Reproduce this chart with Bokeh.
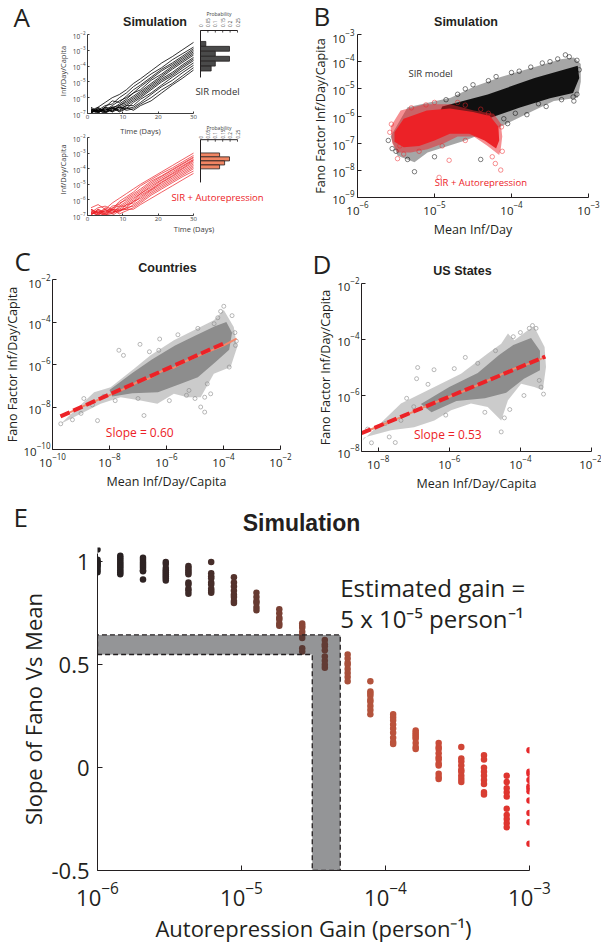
import math
from bokeh.plotting import figure
from bokeh.models import Range1d, FixedTicker, Label
from bokeh.layouts import column, row
from bokeh.embed import file_html
from bokeh.resources import INLINE

INK = "#231f20"
SANS = "Open Sans"
BOLD = "Liberation Sans"
RED = "#ec2227"
AXG = "#3c3c3c"

# ---------------- Panel A: simulated trajectories (log10 Inf/Day/Capita) ----------------
days = [1, 3, 5, 7, 9, 11, 13, 15, 18, 21, 24, 27, 30]
sir_runs = [
    [-6.8, -6.6, -6.3, -6.0, -5.8, -5.5, -5.1, -4.8, -4.3, -3.8, -3.4, -2.95, -2.5],
    [-6.9, -6.8, -6.5, -6.4, -6.0, -5.7, -5.3, -5.0, -4.5, -4.1, -3.6, -3.2, -2.8],
    [-6.7, -6.9, -6.6, -6.2, -6.3, -5.9, -5.5, -5.2, -4.7, -4.2, -3.8, -3.35, -2.9],
    [-7.0, -6.7, -6.8, -6.5, -6.2, -6.0, -5.7, -5.3, -4.8, -4.3, -3.9, -3.45, -3.0],
    [-6.8, -6.9, -6.6, -6.7, -6.4, -6.1, -5.7, -5.5, -4.9, -4.5, -4.0, -3.55, -3.1],
    [-6.95, -6.6, -6.9, -6.6, -6.5, -6.2, -5.9, -5.6, -5.1, -4.6, -4.1, -3.65, -3.2],
    [-6.7, -6.9, -6.7, -6.9, -6.5, -6.3, -6.0, -5.7, -5.2, -4.7, -4.2, -3.75, -3.3],
    [-6.9, -6.8, -7.0, -6.7, -6.6, -6.4, -6.1, -5.8, -5.3, -4.8, -4.4, -3.9, -3.45],
    [-6.6, -6.9, -6.8, -6.6, -6.8, -6.5, -6.2, -5.9, -5.4, -4.9, -4.5, -4.0, -3.55],
    [-6.95, -6.7, -6.9, -6.8, -6.6, -6.7, -6.3, -6.0, -5.5, -5.0, -4.6, -4.1, -3.65],
    [-6.8, -7.0, -6.6, -6.9, -6.7, -6.5, -6.5, -6.1, -5.7, -5.2, -4.7, -4.25, -3.8],
    [-6.9, -6.7, -6.9, -6.6, -6.9, -6.7, -6.6, -6.3, -5.8, -5.3, -4.9, -4.4, -3.95],
    [-6.75, -6.95, -6.7, -6.85, -6.6, -6.8, -6.7, -6.4, -6.0, -5.5, -5.1, -4.6, -4.1],
    [-6.9, -6.8, -6.95, -6.7, -6.85, -6.6, -6.8, -6.5, -6.2, -5.7, -5.2, -4.75, -4.25],
]
auto_runs = [
    [-6.5, -6.3, -6.6, -6.2, -5.9, -5.6, -5.3, -5.0, -4.6, -4.2, -3.8, -3.4, -3.0],
    [-6.8, -6.5, -6.4, -6.6, -6.1, -5.8, -5.5, -5.1, -4.7, -4.3, -3.95, -3.55, -3.15],
    [-6.9, -6.7, -6.8, -6.4, -6.3, -5.9, -5.6, -5.3, -4.8, -4.45, -4.05, -3.65, -3.25],
    [-6.6, -6.9, -6.5, -6.7, -6.2, -6.0, -5.7, -5.4, -4.9, -4.5, -4.1, -3.7, -3.3],
    [-7.0, -6.6, -6.9, -6.5, -6.4, -6.1, -5.8, -5.5, -5.0, -4.6, -4.2, -3.8, -3.4],
    [-6.7, -7.0, -6.6, -6.8, -6.5, -6.2, -5.9, -5.6, -5.1, -4.7, -4.3, -3.85, -3.45],
    [-6.9, -6.8, -7.0, -6.6, -6.6, -6.3, -6.0, -5.6, -5.2, -4.75, -4.35, -3.95, -3.5],
    [-6.6, -6.9, -6.7, -6.9, -6.4, -6.4, -6.1, -5.7, -5.3, -4.85, -4.45, -4.0, -3.6],
    [-6.95, -6.6, -6.8, -6.7, -6.8, -6.3, -6.2, -5.8, -5.35, -4.9, -4.5, -4.1, -3.7],
    [-6.8, -7.0, -6.9, -6.6, -6.7, -6.5, -6.1, -5.9, -5.4, -5.0, -4.6, -4.2, -3.8],
    [-6.7, -6.8, -6.6, -6.9, -6.6, -6.6, -6.3, -6.0, -5.5, -5.1, -4.7, -4.3, -3.9],
    [-6.9, -6.7, -6.95, -6.8, -6.7, -6.5, -6.4, -6.1, -5.6, -5.2, -4.8, -4.4, -4.0],
    [-6.8, -6.95, -6.7, -6.6, -6.9, -6.7, -6.5, -6.2, -5.7, -5.3, -4.9, -4.5, -4.15],
    [-6.6, -6.8, -6.9, -7.0, -6.7, -6.6, -6.6, -6.3, -5.9, -5.5, -5.1, -4.7, -4.3],
]
day_ticks = [0, 10, 20, 30]
prob_ticks = [0, 0.05, 0.1, 0.15, 0.2, 0.25]
prob_tick_text = ["0", "0.05", "0.1", "0.15", "0.2", "0.25"]
sir_bin_edges = [-2.44, -2.75, -3.06, -3.38, -3.69, -4.00, -4.31]
sir_bin_prob = [0.036, 0.196, 0.100, 0.196, 0.100, 0.072]
auto_bin_edges = [-2.99, -3.24, -3.50, -3.76, -4.01]
auto_bin_prob = [0.129, 0.196, 0.163, 0.129]
sir_hist_span = [-1.747, -4.72]
auto_hist_span = [-2.14, -4.88]

# ---------------- Panel B: simulated Fano factor vs mean (log10) ----------------
sir_cloud_x = [-5.57, -5.35, -4.79, -4.49, -4.14, -3.71, -3.36, -3.19, -3.10, -3.10, -3.14, -3.45,
               -3.71, -3.97, -4.14, -4.60, -5.09, -5.26, -5.48]
sir_cloud_y = [-6.75, -5.68, -5.33, -4.92, -4.56, -4.21, -3.91, -3.85, -4.09, -4.74, -5.33, -5.45,
               -5.80, -6.16, -6.39, -6.90, -7.34, -7.70, -7.46]
sir_core_x = [-4.90, -4.31, -3.70, -3.14, -3.12, -3.20, -3.50, -3.90, -4.31, -4.70, -5.00]
sir_core_y = [-5.65, -5.21, -4.60, -4.15, -4.60, -5.15, -5.35, -5.70, -6.10, -6.45, -6.30]
sir_pts_x = [-5.26, -5.50, -4.05, -3.19, -3.15, -3.30, -3.25, -3.40, -3.60, -3.90, -4.20, -4.50,
             -4.70, -3.55, -3.80, -4.10, -5.60, -5.55, -5.35, -5.00, -4.40, -3.12, -3.15, -3.50,
             -3.75, -4.00, -4.30, -4.60, -3.20, -3.35, -3.65, -3.95, -4.85, -5.45]
sir_pts_y = [-8.05, -7.30, -6.28, -5.45, -5.20, -3.75, -3.82, -3.90, -4.05, -4.35, -4.55, -4.85,
             -5.20, -5.65, -5.95, -6.10, -6.90, -7.20, -7.60, -7.50, -7.60, -4.30, -3.95, -4.00,
             -4.20, -4.40, -4.70, -5.00, -5.30, -5.40, -5.55, -5.90, -5.40, -6.80]
auto_cloud_x = [-5.57, -5.44, -5.13, -4.79, -4.49, -4.23, -4.14, -4.12, -4.14, -4.16, -4.31, -4.49,
                -4.70, -4.87, -5.09, -5.31, -5.48, -5.55]
auto_cloud_y = [-6.40, -5.80, -5.57, -5.57, -5.80, -5.92, -6.28, -6.75, -7.22, -7.44, -7.10, -6.75,
                -6.75, -6.99, -7.22, -7.34, -7.34, -6.99]
auto_core_x = [-5.52, -5.40, -5.10, -4.80, -4.50, -4.28, -4.17, -4.16, -4.20, -4.35, -4.55, -4.80,
               -5.00, -5.20, -5.40, -5.52]
auto_core_y = [-6.60, -6.10, -5.80, -5.72, -5.85, -6.00, -6.40, -6.90, -7.20, -6.90, -6.65, -6.65,
               -6.90, -7.10, -7.15, -6.95]
auto_pts_x = [-5.48, -4.94, -4.81, -4.21, -4.14, -5.11, -5.30, -5.56, -5.58, -4.30, -4.13, -4.12,
              -4.60, -4.90, -5.20, -5.45, -4.60, -4.40, -5.00, -4.70, -5.40, -4.25]
auto_pts_y = [-7.57, -8.26, -7.63, -7.75, -7.99, -5.59, -5.70, -6.30, -6.60, -5.90, -6.40, -7.30,
              -6.90, -7.10, -7.30, -7.10, -5.60, -5.75, -5.50, -5.50, -7.40, -7.50]

# ---------------- Panel C: countries (log10) ----------------
cty_cloud_x = [-9.71, -8.54, -7.96, -7.14, -6.56, -5.74, -5.04, -4.34, -3.99, -3.64, -3.52, -3.75,
               -4.34, -4.80, -5.27, -5.74, -6.32, -6.91, -7.61, -8.31, -9.01]
cty_cloud_y = [-8.79, -7.30, -7.07, -6.20, -5.57, -4.86, -4.39, -3.92, -3.44, -4.24, -5.18, -6.12,
               -6.43, -7.54, -7.54, -7.38, -7.85, -7.69, -7.54, -7.85, -8.32]
cty_core_x = [-8.00, -7.20, -6.50, -5.70, -5.00, -4.30, -3.90, -3.70, -3.80, -4.30, -4.90, -5.50,
              -6.30, -7.20, -7.90]
cty_core_y = [-7.20, -6.40, -5.75, -5.10, -4.65, -4.20, -4.00, -4.50, -5.30, -5.90, -6.60, -6.90,
              -7.30, -7.35, -7.50]
cty_pts_x = [-7.67, -7.51, -6.93, -6.24, -3.99, -4.10, -3.58, -4.66, -4.66, -6.79, -9.71, -9.00,
             -8.42, -5.21, -4.57, -4.45, -3.80, -6.27, -4.33, -8.90, -8.20, -5.90, -5.00, -4.80,
             -3.60, -3.70, -9.30, -7.80, -6.60, -5.60, -4.90, -4.20, -7.00, -8.60, -3.55, -5.30]
cty_pts_y = [-5.33, -5.57, -5.05, -4.80, -3.26, -3.50, -5.10, -7.54, -8.24, -8.40, -8.79, -8.30,
             -8.64, -7.22, -6.91, -7.38, -6.12, -5.33, -4.08, -7.60, -7.50, -7.70, -7.60, -8.00,
             -4.50, -3.70, -8.60, -7.70, -5.40, -4.60, -4.30, -3.80, -7.60, -7.90, -4.90, -7.45]
cty_bin_x = [-9.71, -8.90, -8.10, -7.40, -6.91, -6.62, -6.09, -5.74, -5.27, -4.57, -3.99, -3.54]
cty_bin_y = [-8.45, -7.95, -7.50, -7.10, -6.75, -6.67, -6.25, -6.15, -5.81, -5.42, -5.10, -4.78]
cty_slope, cty_icpt, cty_fit_x = 0.60, -2.61, [-9.72, -3.95]

# ---------------- Panel D: US states (log10) ----------------
us_cloud_x = [-8.44, -7.36, -6.42, -5.67, -4.92, -4.54, -4.35, -4.17, -3.79, -3.61, -3.32, -3.28,
              -3.37, -3.61, -3.98, -4.35, -4.54, -4.92, -5.39, -5.95, -6.42, -6.99, -7.64, -8.40]
us_cloud_y = [-7.61, -6.29, -5.70, -5.22, -4.50, -4.15, -3.79, -4.03, -3.67, -3.55, -4.27, -4.98,
              -5.81, -5.70, -5.58, -6.17, -6.89, -6.41, -6.29, -6.53, -6.89, -7.13, -7.24, -7.50]
us_core_x = [-6.80, -6.00, -5.20, -4.60, -4.20, -3.70, -3.45, -3.45, -3.90, -4.40, -5.00, -5.80,
             -6.50]
us_core_y = [-6.30, -5.70, -5.20, -4.55, -4.20, -3.95, -4.40, -5.10, -5.40, -5.90, -6.10, -6.20,
             -6.60]
us_pts_x = [-6.89, -5.55, -6.92, -6.43, -8.19, -4.54, -3.66, -3.56, -3.47, -3.42, -5.86, -7.36,
            -7.69, -7.52, -4.00, -4.20, -3.90, -4.30, -5.00, -6.10, -7.00, -7.80, -8.30, -3.35,
            -5.20, -4.70, -6.60, -7.20, -3.75, -4.45]
us_pts_y = [-5.00, -4.64, -5.40, -5.08, -7.69, -7.30, -3.50, -3.60, -5.46, -5.70, -5.04, -6.89,
            -7.48, -7.68, -3.75, -3.90, -6.00, -6.50, -6.60, -6.70, -6.40, -7.00, -7.20, -5.95,
            -4.85, -4.40, -5.60, -6.10, -3.60, -6.80]
us_bin_x = [-8.47, -7.50, -6.50, -5.50, -4.80, -4.20, -3.60, -3.30]
us_bin_y = [-7.35, -6.85, -6.30, -5.80, -5.40, -5.05, -4.80, -4.62]
us_slope, us_icpt, us_fit_x = 0.53, -2.86, [-8.47, -3.30]

# ---------------- Panel E: fitted slope vs autorepression gain ----------------
gain_levels = [1.00e-6, 1.44e-6, 2.07e-6, 2.98e-6, 4.28e-6, 6.16e-6, 8.86e-6, 1.27e-5, 1.83e-5, 2.64e-5,
               3.79e-5, 5.46e-5, 7.85e-5, 1.13e-4, 1.62e-4, 2.34e-4, 3.36e-4, 4.83e-4, 6.95e-4, 1.00e-3]
slope_runs = [
    [1.06, 1.01, 1.0, 0.99, 0.98, 0.97, 0.96, 0.95, 1.0, 0.985],
    [1.03, 1.02, 1.01, 1.0, 0.99, 0.98, 0.97, 0.96, 0.95, 0.94],
    [1.02, 1.01, 1.0, 0.99, 0.98, 0.97, 0.96, 0.955, 0.915],
    [1.0, 0.99, 0.97, 0.96, 0.95, 0.94, 0.93, 0.92, 0.91],
    [0.98, 0.97, 0.96, 0.95, 0.94, 0.90, 0.89, 0.87, 0.86, 0.845],
    [1.0, 0.945, 0.93, 0.92, 0.90, 0.89, 0.87, 0.86, 0.85],
    [0.925, 0.90, 0.88, 0.86, 0.84, 0.83, 0.81, 0.80],
    [0.85, 0.83, 0.81, 0.80, 0.78, 0.765],
    [0.77, 0.75, 0.73, 0.72, 0.70, 0.69],
    [0.70, 0.69, 0.68, 0.66, 0.645, 0.63, 0.58, 0.565],
    [0.62, 0.60, 0.59, 0.57, 0.54, 0.52, 0.50, 0.485],
    [0.55, 0.53, 0.51, 0.50, 0.48, 0.46, 0.44, 0.42],
    [0.42, 0.37, 0.36, 0.35, 0.33, 0.32, 0.30, 0.28, 0.26],
    [0.26, 0.245, 0.23, 0.21, 0.19, 0.17, 0.145, 0.125, 0.115],
    [0.18, 0.17, 0.16, 0.15, 0.14, 0.12, 0.10, 0.09],
    [0.12, 0.10, 0.09, 0.07, 0.05, 0.04, 0.02, 0.01, -0.03, -0.045, -0.055],
    [0.10, 0.045, 0.03, 0.01, -0.01, -0.02, -0.04, -0.055, -0.07],
    [0.06, 0.04, 0.00, -0.02, -0.04, -0.06, -0.08, -0.12, -0.13],
    [-0.04, -0.07, -0.10, -0.12, -0.14, -0.20, -0.23, -0.25, -0.27, -0.29],
    [0.085, -0.02, -0.03, -0.06, -0.09, -0.10, -0.115, -0.16, -0.22, -0.265, -0.37],
]
level_colors = ["#231f20", "#282122", "#2e2323", "#352626", "#3d2a28", "#472e2a", "#55332d",
                "#663a31", "#794034", "#8a4637", "#9a4b39", "#a8503b", "#b3533c", "#bb533c",
                "#c2503a", "#c94b38", "#d04536", "#d83e33", "#df352f", "#e6292b"]
est_gain = [3.1e-5, 4.85e-5]
est_slope = [0.55, 0.645]


def pow10(vals):
    return [10.0 ** v for v in vals]


def make_fig(w, h, left, right, top, bottom, **kw):
    p = figure(width=w, height=h, min_border_left=left, min_border_right=right,
               min_border_top=top, min_border_bottom=bottom, frame_align=False,
               output_backend="svg", toolbar_location=None, **kw)
    p.outline_line_color = None
    p.xgrid.visible = False
    p.ygrid.visible = False
    return p


def make_strip(w, h):
    # axis-free header band; data coordinates are canvas pixels (y measured upward)
    p = figure(width=w, height=h, x_range=Range1d(0, w), y_range=Range1d(0, h),
               min_border=0, min_border_left=0, min_border_right=0, min_border_top=0,
               min_border_bottom=0, x_axis_location=None, y_axis_location=None,
               frame_align=False, output_backend="svg", toolbar_location=None)
    p.outline_line_color = None
    p.xgrid.visible = False
    p.ygrid.visible = False
    return p


def style_axis(ax, tick_fs, label_fs, tick_in=3, standoff=3, label_standoff=4, color=INK):
    ax.axis_line_color = color
    ax.axis_line_width = 1
    ax.major_tick_in = tick_in
    ax.major_tick_out = 0
    ax.major_tick_line_color = color
    ax.minor_tick_line_color = None
    ax.major_label_text_font = SANS
    ax.major_label_text_font_size = f"{tick_fs}px"
    ax.major_label_text_color = color
    ax.major_label_standoff = standoff
    ax.axis_label_text_font = SANS
    ax.axis_label_text_font_style = "normal"
    ax.axis_label_text_font_size = f"{label_fs}px"
    ax.axis_label_text_color = color
    ax.axis_label_standoff = label_standoff


def put(p, x, y, text, size, font=SANS, color=INK, style="normal", align="left",
        baseline="alphabetic", xu="data", yu="data", angle=0.0, xr="default", yr="default"):
    p.add_layout(Label(x=x, y=y, x_units=xu, y_units=yu, text=text, text_font=font,
                       text_font_size=f"{size}px", text_color=color, text_font_style=style,
                       text_align=align, text_baseline=baseline, angle=angle,
                       x_range_name=xr, y_range_name=yr))


def put_strip(s, x, y_from_top, text, size, **kw):
    put(s, x, s.height - y_from_top, text, size, **kw)


# ---------------- Panel A ----------------
HIST_X0 = 200.0      # canvas x of zero probability
HIST_SCALE = 148.0   # pixels per unit probability
DAY_SCALE = 106.0 / 30.0
A_LEFT = 87


def traj_fig(h, top, bottom, ytop_exp, runs, color, alpha, edges, probs, hist_color,
             span, time_label):
    p = make_fig(300, h, A_LEFT, 0, top, bottom,
                 x_range=Range1d(0, (300 - A_LEFT) / DAY_SCALE),
                 y_range=Range1d(1e-7, 10.0 ** ytop_exp), y_axis_type="log")
    p.extra_x_ranges = {"hist": Range1d((A_LEFT - HIST_X0) / HIST_SCALE, (300 - HIST_X0) / HIST_SCALE)}
    style_axis(p.xaxis[0], 6, 7.5, tick_in=2, standoff=1, label_standoff=0, color=AXG)
    style_axis(p.yaxis[0], 6.5, 7.5, tick_in=2, standoff=2, label_standoff=2, color=AXG)
    p.xaxis.ticker = FixedTicker(ticks=day_ticks)
    p.xaxis.bounds = (0, 30)
    p.yaxis.ticker = FixedTicker(ticks=[1e-7, 1e-6, 1e-5, 1e-4, 1e-3, 1e-2])
    p.yaxis.bounds = (1e-7, 1e-2)
    p.yaxis.axis_label = "Inf/Day/Capita"
    if time_label:
        p.xaxis.axis_label = "Time (Days)"
    p.multi_line(xs=[days] * len(runs), ys=[pow10(r) for r in runs],
                 line_color=color, line_width=0.8, line_alpha=alpha)
    p.quad(left=[0] * len(probs), right=probs, top=pow10(edges[:-1]), bottom=pow10(edges[1:]),
           x_range_name="hist", fill_color=hist_color, line_color=INK, line_width=0.8)
    top_y = 10.0 ** span[0]
    p.segment(x0=[0, 0], x1=[0, 0.25], y0=[top_y, top_y], y1=[10.0 ** span[1], top_y],
              x_range_name="hist", line_color=INK, line_width=1)
    p.segment(x0=prob_ticks, x1=prob_ticks, y0=[top_y] * len(prob_ticks),
              y1=[10.0 ** (span[0] - 0.13)] * len(prob_ticks),
              x_range_name="hist", line_color=INK, line_width=0.8)
    return p


sA = make_strip(300, 28)
sA.extra_x_ranges = {"hist": Range1d(-HIST_X0 / HIST_SCALE, (300 - HIST_X0) / HIST_SCALE)}
put_strip(sA, 13, 16, "A", 26, baseline="middle")
put_strip(sA, 154.5, 21, "Simulation", 12.5, font=BOLD, style="bold", align="center",
          baseline="middle")
for t, s in zip(prob_ticks, prob_tick_text):
    put_strip(sA, t, 26.5, s, 4.5, baseline="middle", xr="hist", angle=math.pi / 2, color=AXG)
put_strip(sA, 0.125, 13, "Probability", 5, align="center", baseline="middle", xr="hist", color=AXG)

# upper trajectories: frame from page y 28 to 113
pa1 = traj_fig(95, 0, 10, -2 + 6 / 15.8, sir_runs, "black", 1.0, sir_bin_edges, sir_bin_prob,
               "#4a4a4a", sir_hist_span, False)
put(pa1, 0.115, 10.0 ** -5.61, "SIR model", 9.5, align="center", baseline="middle",
    xr="hist", color="#333333")

# lower trajectories: frame from page y 123 to 215; 10^-2 sits at page y 137
pa2 = traj_fig(117, 0, 25, -2 + 14 / 15.6, auto_runs, RED, 0.9, auto_bin_edges, auto_bin_prob,
               "#f08563", auto_hist_span, True)
put(pa2, 0.115, 10.0 ** -5.85, "SIR + Autorepression", 9.5, align="center", baseline="middle",
    xr="hist", color=RED)
# label of the upper time axis and the lower histogram's probability axis (frame-relative px)
put(pa2, 15, 85, "Time (Days)", 7.5, align="center", yu="screen", color=AXG)
for t, s in zip(prob_ticks, prob_tick_text):
    put(pa2, t, 77, s, 4.5, baseline="middle", xr="hist", yu="screen", angle=math.pi / 2,
        color=AXG)
put(pa2, 0.125, 88, "Probability", 5, align="center", xr="hist", yu="screen", color=AXG)

# ---------------- Panel B ----------------
sB = make_strip(301, 28)
put_strip(sB, 13, 15, "B", 26, baseline="middle")
put_strip(sB, 165.5, 21, "Simulation", 12.5, font=BOLD, style="bold", align="center",
          baseline="middle")

pb = make_fig(301, 212, 57, 13, 6, 37, x_range=Range1d(1e-6, 1e-3), y_range=Range1d(1e-9, 1e-3),
              x_axis_type="log", y_axis_type="log")
style_axis(pb.xaxis[0], 11.5, 12.5, tick_in=4, standoff=4, label_standoff=3)
style_axis(pb.yaxis[0], 11.5, 12.5, tick_in=4, standoff=3, label_standoff=0)
pb.xaxis.ticker = FixedTicker(ticks=[1e-6, 1e-5, 1e-4, 1e-3])
pb.yaxis.ticker = FixedTicker(ticks=[1e-9, 1e-8, 1e-7, 1e-6, 1e-5, 1e-4, 1e-3])
pb.xaxis.axis_label = "Mean Inf/Day"
pb.yaxis.axis_label = "Fano Factor Inf/Day/Capita"
pb.patch(pow10(sir_cloud_x), pow10(sir_cloud_y), fill_color="black", fill_alpha=0.35, line_color=None)
pb.patch(pow10(sir_core_x), pow10(sir_core_y), fill_color="black", fill_alpha=0.9, line_color=None)
pb.scatter(pow10(sir_pts_x), pow10(sir_pts_y), marker="circle", size=4.5, fill_color=None,
           line_color="black", line_width=0.5)
pb.patch(pow10(auto_cloud_x), pow10(auto_cloud_y), fill_color=RED, fill_alpha=0.5, line_color=None)
pb.patch(pow10(auto_core_x), pow10(auto_core_y), fill_color=RED, fill_alpha=1.0, line_color=None)
pb.scatter(pow10(auto_pts_x), pow10(auto_pts_y), marker="circle", size=4.5, fill_color=None,
           line_color=RED, line_width=0.5)
put(pb, 8.9e-6, 3.6e-5, "SIR model", 9.5, align="center", baseline="middle", color="#333333")
put(pb, 4.0e-5, 3.5e-9, "SIR + Autorepression", 9.5, align="center", baseline="middle", color=RED)


# ---------------- Panels C and D ----------------
def fano_fig(w, h, left, right, top, bottom, xmin, xmax, ymin, ymax, xticks, yticks):
    p = make_fig(w, h, left, right, top, bottom,
                 x_range=Range1d(xmin, xmax), y_range=Range1d(ymin, ymax),
                 x_axis_type="log", y_axis_type="log")
    style_axis(p.xaxis[0], 11.5, 12.5, tick_in=4, standoff=4, label_standoff=3)
    style_axis(p.yaxis[0], 11.5, 12.5, tick_in=4, standoff=2, label_standoff=0)
    p.xaxis.ticker = FixedTicker(ticks=xticks)
    p.yaxis.ticker = FixedTicker(ticks=yticks)
    p.xaxis.axis_label = "Mean Inf/Day/Capita"
    p.yaxis.axis_label = "Fano Factor Inf/Day/Capita"
    return p


def draw_cloud(p, cx, cy, kx, ky, px, py, bx, by, slope, icpt, fx):
    p.patch(pow10(cx), pow10(cy), fill_color="#8c8c8c", fill_alpha=0.45, line_color=None)
    p.patch(pow10(kx), pow10(ky), fill_color="#7d7d7d", fill_alpha=0.8, line_color=None)
    p.scatter(pow10(px), pow10(py), marker="circle", size=4, fill_color=None,
              line_color="#8a8a8a", line_width=0.6)
    p.line(pow10(bx), pow10(by), line_color="#f3866a", line_width=2)
    p.line(pow10(fx), pow10([icpt + slope * v for v in fx]), line_color=RED, line_width=4,
           line_dash="10 4")


sC = make_strip(300, 33)
put_strip(sC, 14, 20, "C", 26, baseline="middle")
put_strip(sC, 167, 27.5, "Countries", 12.5, font=BOLD, style="bold", align="center",
          baseline="middle")
pc = fano_fig(300, 227, 52, 20, 6, 51, 1e-10, 1e-2, 1e-10, 1e-2,
              [1e-10, 1e-8, 1e-6, 1e-4, 1e-2], [1e-10, 1e-8, 1e-6, 1e-4, 1e-2])
draw_cloud(pc, cty_cloud_x, cty_cloud_y, cty_core_x, cty_core_y, cty_pts_x, cty_pts_y,
           cty_bin_x, cty_bin_y, cty_slope, cty_icpt, cty_fit_x)
put(pc, 1.15e-7, 6.3e-10, f"Slope = {cty_slope:.2f}", 12, align="center", baseline="middle",
    color=RED)

sD = make_strip(301, 36)
put_strip(sD, 12, 23, "D", 26, baseline="middle")
put_strip(sD, 162, 30.5, "US States", 12.5, font=BOLD, style="bold", align="center",
          baseline="middle")
pd = fano_fig(301, 224, 61, 10, 7, 49, 10.0 ** -8.47, 1e-2, 1e-8, 1e-2,
              [1e-8, 1e-6, 1e-4, 1e-2], [1e-8, 1e-6, 1e-4, 1e-2])
draw_cloud(pd, us_cloud_x, us_cloud_y, us_core_x, us_core_y, us_pts_x, us_pts_y,
           us_bin_x, us_bin_y, us_slope, us_icpt, us_fit_x)
put(pd, 9.1e-7, 4.1e-8, f"Slope = {us_slope:.2f}", 12, align="center", baseline="middle",
    color=RED)

# ---------------- Panel E ----------------
sE = make_strip(601, 35)
put_strip(sE, 13, 16, "E", 26, baseline="middle")
put_strip(sE, 301, 22, "Simulation", 23, font=BOLD, style="bold", align="center",
          baseline="middle")

pe = make_fig(601, 410, 97, 72, 12, 68, x_range=Range1d(1e-6, 1e-3), y_range=Range1d(-0.5, 1.07),
              x_axis_type="log")
style_axis(pe.xaxis[0], 22, 22, tick_in=5, standoff=11, label_standoff=4)
style_axis(pe.yaxis[0], 22, 22, tick_in=5, standoff=8, label_standoff=0)
pe.xaxis.ticker = FixedTicker(ticks=[1e-6, 1e-5, 1e-4, 1e-3])
pe.yaxis.ticker = FixedTicker(ticks=[-0.5, 0, 0.5, 1])
pe.yaxis.major_label_overrides = {-0.5: "-0.5", 0: "0", 0.5: "0.5", 1: "1"}
pe.yaxis.bounds = (-0.5, 1.04)
pe.xaxis.axis_label = "Autorepression Gain (person\u207b\u00b9)"
pe.yaxis.axis_label = "Slope of Fano Vs Mean"
ex, ey, ec = [], [], []
for g, runs, c in zip(gain_levels, slope_runs, level_colors):
    ex += [g] * len(runs)
    ey += runs
    ec += [c] * len(runs)
pe.scatter(ex, ey, marker="circle", size=6.5, fill_color=ec, line_color=ec, line_width=0)
pe.patch([gain_levels[0], gain_levels[0], est_gain[1], est_gain[1], est_gain[0], est_gain[0]],
         [est_slope[0], est_slope[1], est_slope[1], -0.5, -0.5, est_slope[0]],
         fill_color="#2a2c30", fill_alpha=0.5, line_color=INK, line_width=1.3, line_dash="5 3")
put(pe, est_gain[1], 0.877, "Estimated gain =", 24, baseline="middle")
put(pe, est_gain[1], 0.725, "5 x 10\u207b\u2075 person\u207b\u00b9", 24, baseline="middle")

page = column(
    row(column(sA, pa1, pa2), column(sB, pb)),
    row(column(sC, pc), column(sD, pd)),
    column(sE, pe),
)
open("out.html", "w").write(file_html(page, INLINE))
